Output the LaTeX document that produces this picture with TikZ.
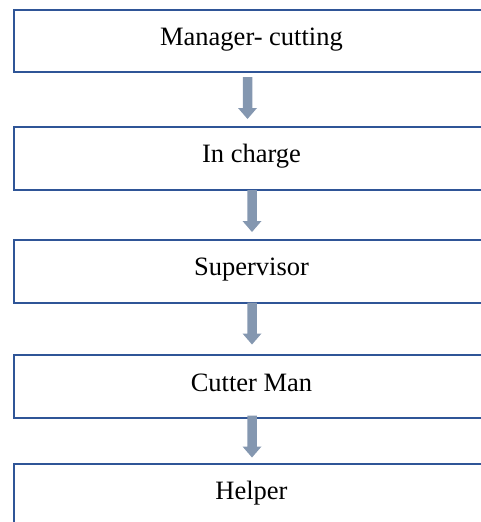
\documentclass[tikz,border=0pt]{standalone}
\usepackage{fontspec}
\setmainfont{Liberation Serif}
\definecolor{boxline}{HTML}{2F5597}
\definecolor{arrowfill}{HTML}{8497B0}
\begin{document}
\begin{tikzpicture}[x=1pt,y=-1pt,
  stagebox/.style={draw=boxline, line width=2pt, inner sep=0pt,
    minimum width=477pt, anchor=north west},
  stagelabel/.style={anchor=base, inner sep=0pt,
    font=\fontsize{26.5}{30}\selectfont},
  pics/flowarrow/.style={code={
    \fill[arrowfill] (-4.75,0) -- (4.75,0) -- (4.75,31) -- (9.5,31)
      -- (0,42) -- (-9.5,31) -- (-4.75,31) -- cycle;}}]
\useasboundingbox (0,0) rectangle (481,522);
\clip (0,0) rectangle (481,522);

% stage boxes (they run off the right and bottom edges)
\node[stagebox, minimum height=61.5pt] (b1) at (13,9) {};
\node[stagebox, minimum height=63pt]   (b2) at (13,126) {};
\node[stagebox, minimum height=63pt]   (b3) at (13,239) {};
\node[stagebox, minimum height=62.5pt] (b4) at (13,354) {};
\node[stagebox, minimum height=82pt]   (b5) at (13,463) {};

% stage titles
\node[stagelabel] (t1) at (251.5,45)  {Manager- cutting};
\node[stagelabel] (t2) at (251.5,162) {In charge};
\node[stagelabel] (t3) at (251.5,275) {Supervisor};
\node[stagelabel] (t4) at (251.5,391) {Cutter Man};
\node[stagelabel] (t5) at (251.5,499) {Helper};

% block arrows between stages
\pic at (247.5,77)  {flowarrow};
\pic at (252,190)   {flowarrow};
\pic at (252,302.5) {flowarrow};
\pic at (252,415.5) {flowarrow};
\end{tikzpicture}
\end{document}
